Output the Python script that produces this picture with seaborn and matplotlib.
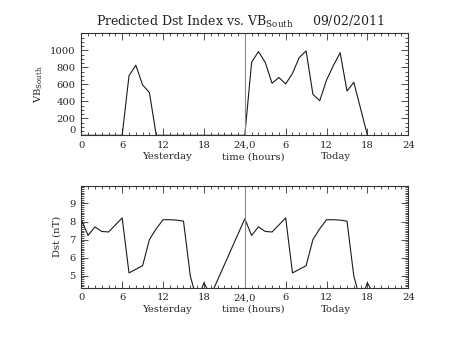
import matplotlib
matplotlib.use("Agg")
import matplotlib.pyplot as plt
import matplotlib.transforms as mtransforms
from matplotlib.ticker import MultipleLocator, FixedLocator
import seaborn as sns
import pandas as pd

# Hours run 0..48: 0-24 is yesterday, 24-48 is today
vb_hours = [0, 1, 2, 3, 4, 5, 6, 7, 8, 9, 10, 11, 12, 13, 14, 15, 16, 17, 18,
            19, 20, 21, 22, 23, 24, 25, 26, 27, 28, 29, 30, 31, 32, 33, 34,
            35, 36, 37, 38, 39, 40, 41, 42]
vb_south = [0, 0, 0, 0, 0, 0, 0, 700, 825, 592, 502, 0, 0, 0, 0, 0, 0, 0, 0,
            0, 0, 0, 0, 0, 0, 858, 985, 858, 612, 680, 604, 728, 916, 993, 482,
            407, 650, 820, 972, 521, 623, 313, 0]

dst_hours = [0, 1, 2, 3, 4, 6, 7, 9, 10, 11, 12, 13, 14, 15, 16, 17, 18, 19,
             24, 25, 26, 27, 28, 30, 31, 33, 34, 35, 36, 37, 38, 39, 40, 41, 42, 43]
dst_nt = [8.10, 7.23, 7.70, 7.45, 7.42, 8.20, 5.15, 5.55, 7.00, 7.60, 8.10, 8.10,
          8.08, 8.02, 4.98, 3.60, 4.60, 3.90,
          8.15, 7.23, 7.70, 7.45, 7.42, 8.20, 5.15, 5.55, 7.00, 7.60, 8.10, 8.10,
          8.08, 8.02, 4.98, 3.60, 4.60, 3.90]

x_ticks = [0, 6, 12, 18, 24, 30, 36, 42, 48]
x_ticklabels = ["0", "6", "12", "18", "24,0", "6", "12", "18", "24"]
day_labels = ["Yesterday", "time (hours)", "Today"]
day_label_pos = [12.5, 25.3, 37.4]

sns.set_style("white")
plt.rcParams["font.family"] = ["DejaVu Serif"]
plt.rcParams["mathtext.fontset"] = "dejavuserif"

fig = plt.figure(figsize=(4.53, 3.40), dpi=100)
W, H = 453, 340


def box(l, t, r, b):
    return [l / W, 1 - b / H, (r - l) / W, (b - t) / H]


ax1 = fig.add_axes(box(81.3, 33.3, 408.3, 135.3))
ax2 = fig.add_axes(box(81.3, 186.0, 408.3, 287.7))

vb_df = pd.DataFrame({"hour": vb_hours, "vb": vb_south})
dst_df = pd.DataFrame({"hour": dst_hours, "dst": dst_nt})

sns.lineplot(data=vb_df, x="hour", y="vb", ax=ax1, color="#1a1a1a",
             lw=0.8, sort=False, estimator=None)
sns.lineplot(data=dst_df, x="hour", y="dst", ax=ax2, color="#1a1a1a",
             lw=0.8, sort=False, estimator=None)

fs = 7.2
for ax in (ax1, ax2):
    ax.axvline(24, color="#8a8a8a", lw=0.8)
    ax.set_xlim(0, 48)
    ax.xaxis.set_major_locator(FixedLocator(x_ticks))
    ax.set_xticklabels(x_ticklabels, fontsize=fs)
    ax.xaxis.set_minor_locator(MultipleLocator(1))
    ax.tick_params(which="both", direction="in", top=True, right=True,
                   bottom=True, left=True, color="#333333", width=0.6)
    ax.tick_params(which="major", length=5, pad=4, labelsize=fs)
    ax.tick_params(which="minor", length=2.5)
    for s in ax.spines.values():
        s.set_color("#333333")
        s.set_linewidth(0.8)
    ax.set_xlabel("")
    trans = mtransforms.blended_transform_factory(ax.transData, ax.transAxes)
    for lab, xp in zip(day_labels, day_label_pos):
        ax.text(xp, -0.235, lab, transform=trans, ha="center", va="baseline",
                fontsize=fs)

ax1.set_ylim(0, 1200)
ax1.yaxis.set_major_locator(FixedLocator([0, 200, 400, 600, 800, 1000]))
ax1.yaxis.set_minor_locator(MultipleLocator(50))
ax1.set_yticklabels(["0", "200", "400", "600", "800", "1000"], fontsize=fs)
ax1.get_yticklabels()[0].set_va("bottom")
ax1.set_ylabel(r"VB$_{\rm South}$", fontsize=fs, labelpad=4)

ax2.set_ylim(4.33, 9.97)
ax2.yaxis.set_major_locator(FixedLocator([5, 6, 7, 8, 9]))
ax2.yaxis.set_minor_locator(MultipleLocator(0.1))
ax2.set_yticklabels(["5", "6", "7", "8", "9"], fontsize=fs)
ax2.set_ylabel("Dst (nT)", fontsize=fs, labelpad=6)

fig.text(240 / W, 1 - 22 / H,
         r"Predicted Dst Index vs. VB$_{\rm South}$     09/02/2011",
         ha="center", va="center", fontsize=9, color="#222222")

fig.savefig("out.png", dpi=100, facecolor="white")
